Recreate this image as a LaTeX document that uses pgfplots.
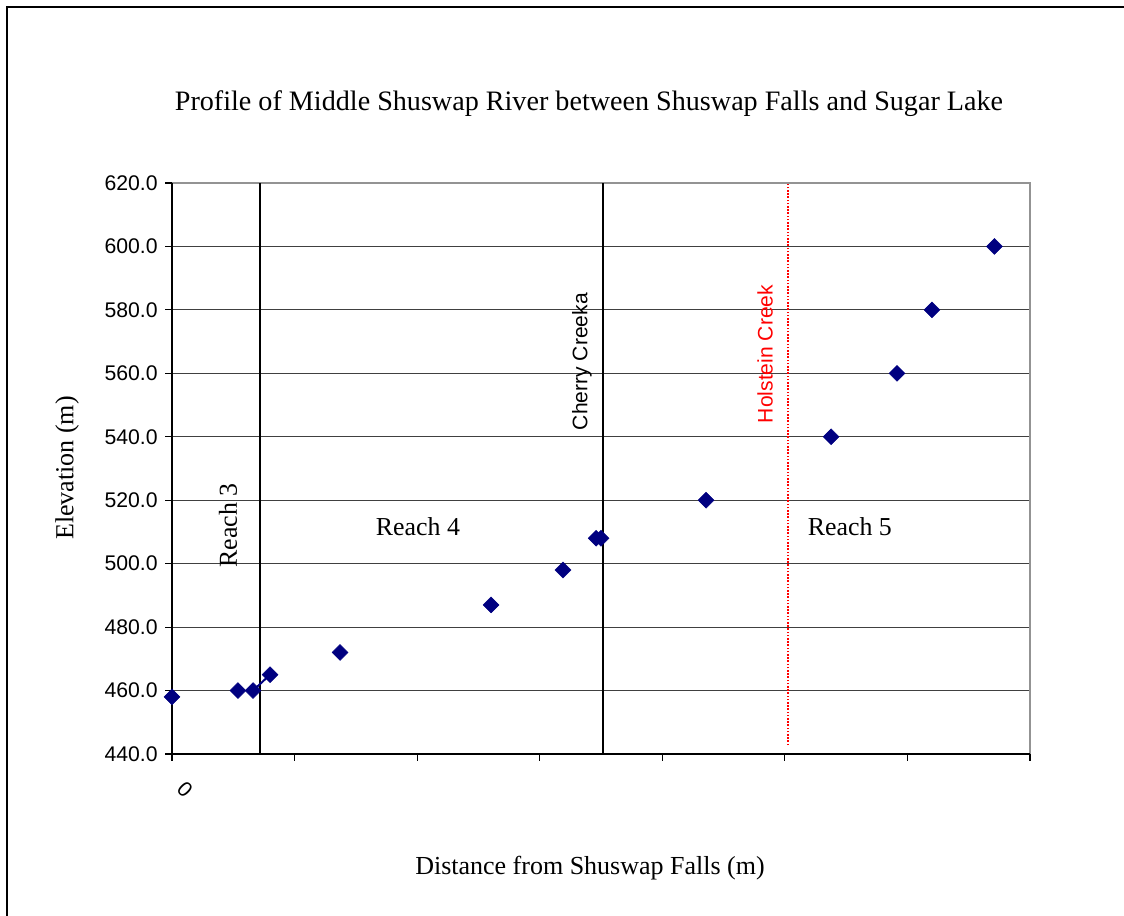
\documentclass[border=0pt]{standalone}
\usepackage{pgfplots}
\pgfplotsset{compat=1.18}
\usepackage{fontspec}
\setmainfont{Liberation Serif}
\newfontfamily\arial{Liberation Sans}
\definecolor{navy}{RGB}{0,0,128}
\begin{document}
\begin{tikzpicture}
\useasboundingbox (0,0) rectangle (843pt,687pt);
\draw[line width=1.8pt,black] (5.25pt,0) -- (5.25pt,681.75pt) -- (843pt,681.75pt);
\begin{axis}[
  at={(129pt,121.5pt)}, anchor=south west,
  scale only axis, width=643.5pt, height=428.25pt,
  xmin=0, xmax=7, ymin=440, ymax=620,
  xtick={0,1,2,3,4,5,6,7}, xticklabels={},
  ytick={440,460,...,620},
  tick align=outside, xtick pos=left, ytick pos=left,
  major tick length=5.25pt,
  tick style={black, line width=0.8pt},
  ymajorgrids, grid style={black!75, line width=0.7pt},
  axis line style={draw=none},
  /pgf/number format/assume math mode=true,
  yticklabel style={font=\arial\fontsize{15.9pt}{18pt}\selectfont, xshift=-2pt,
    /pgf/number format/.cd, fixed, fixed zerofill, precision=1},
  clip=false,
]
\draw[gray!85, line width=1.5pt] (rel axis cs:0,1) -- (rel axis cs:1,1) -- (rel axis cs:1,0);
\draw[black, line width=1.2pt] (rel axis cs:0,1) -- (rel axis cs:0,0) -- (rel axis cs:1,0);
\addplot[black, line width=1.5pt] coordinates {(0.718,440) (0.718,620)};
\addplot[black, line width=1.5pt] coordinates {(3.516,440) (3.516,620)};
\addplot[red, line width=1.2pt, dash pattern=on 1.2pt off 1.2pt] coordinates {(5.026,442.8) (5.026,620)};
\addplot[navy, line width=1.5pt] coordinates {(0.661,460) (0.80,465)};
\addplot[only marks, mark=square*, mark size=4.2pt, mark options={rotate=45, fill=navy, draw=navy}] coordinates {
(0,458) (0.538,460) (0.661,460) (0.80,465) (1.371,472) (2.603,487) (3.19,498)
(3.46,508) (3.50,508) (4.357,520) (5.377,540) (5.915,560) (6.20,580) (6.71,600)};
\node[rotate=90, font=\fontsize{19.4pt}{22pt}\selectfont] at (axis cs:0.457,512) {Reach 3};
\node[font=\fontsize{19.4pt}{22pt}\selectfont] at (axis cs:2.007,511.6) {Reach 4};
\node[font=\fontsize{19.4pt}{22pt}\selectfont] at (axis cs:5.53,511.6) {Reach 5};
\node[rotate=90, font=\arial\fontsize{15.8pt}{18pt}\selectfont] at (axis cs:3.345,563.7) {Cherry Creeka};
\node[rotate=90, text=red, font=\arial\fontsize{15.8pt}{18pt}\selectfont] at (axis cs:4.838,566.1) {Holstein Creek};
\end{axis}
\node[font=\fontsize{21.1pt}{24pt}\selectfont] at (441.75pt,609pt) {Profile of Middle Shuswap River between Shuswap Falls and Sugar Lake};
\node[font=\fontsize{19.5pt}{22pt}\selectfont] at (442.5pt,36pt) {Distance from Shuswap Falls (m)};
\node[rotate=90, font=\fontsize{19.5pt}{22pt}\selectfont] at (50.25pt,336pt) {Elevation (m)};
\node[rotate=-45, font=\arial\fontsize{15.9pt}{18pt}\selectfont] at (138.75pt,94.5pt) {0};
\end{tikzpicture}
\end{document}
